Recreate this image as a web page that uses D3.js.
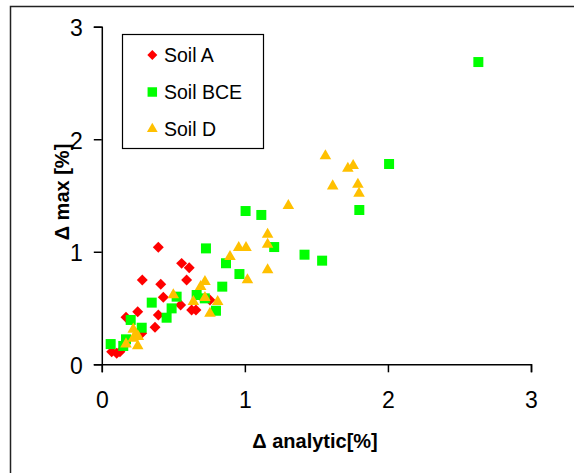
<!DOCTYPE html>
<html>
<head>
<meta charset="utf-8">
<script src="https://cdn.jsdelivr.net/npm/d3@7"></script>
<style>
  body { margin: 0; background: #fff; }
  svg { font-family: "Liberation Sans", Arial, sans-serif; }
</style>
</head>
<body>
<div id="chart"></div>
<script>

// values: [delta analytic, delta max]
var soilA = [
  [0.395, 1.04], [0.558, 0.897], [0.611, 0.858], [0.283, 0.749], [0.412, 0.711],
  [0.593, 0.749], [0.43, 0.595], [0.551, 0.527], [0.628, 0.482], [0.658, 0.482],
  [0.756, 0.571], [0.251, 0.467], [0.395, 0.438], [0.169, 0.418], [0.372, 0.329],
  [0.279, 0.275], [0.069, 0.112], [0.104, 0.098], [0.127, 0.112]
];
var soilBCE = [
  [2.632, 2.686], [2.008, 1.78], [1.8, 1.371], [1.005, 1.362], [1.115, 1.327],
  [1.205, 1.042], [0.728, 1.03], [1.417, 0.974], [1.54, 0.921], [0.868, 0.898],
  [0.962, 0.802], [0.842, 0.69], [0.523, 0.601], [0.663, 0.616], [0.349, 0.548],
  [0.488, 0.497], [0.72, 0.586], [0.798, 0.476], [0.453, 0.414], [0.202, 0.394],
  [0.279, 0.325], [0.169, 0.222], [0.15, 0.163], [0.062, 0.18]
];
var soilD = [
  [1.563, 1.851], [1.72, 1.741], [1.757, 1.765], [1.614, 1.584], [1.79, 1.599],
  [1.798, 1.519], [1.304, 1.41], [1.159, 1.155], [1.159, 1.066], [0.957, 1.036],
  [1.008, 1.036], [0.896, 0.956], [1.159, 0.838], [1.018, 0.749], [0.721, 0.734],
  [0.691, 0.69], [0.5, 0.616], [0.721, 0.592], [0.64, 0.556], [0.81, 0.556],
  [0.756, 0.453], [0.22, 0.311], [0.24, 0.266], [0.255, 0.245], [0.22, 0.231],
  [0.169, 0.18], [0.251, 0.163]
];
var xTicks = [0, 1, 2, 3];
var yTicks = [0, 1, 2, 3];
var seriesNames = ["Soil A", "Soil BCE", "Soil D"];

var width = 574, height = 473;

var svg = d3.select("#chart").append("svg")
  .attr("width", width)
  .attr("height", height);

// outer frame (runs off the right and bottom edge)
svg.append("rect")
  .attr("x", 10.5).attr("y", 6.5)
  .attr("width", 600).attr("height", 500)
  .attr("fill", "none")
  .attr("stroke", "#222")
  .attr("stroke-width", 1.5);

var x = d3.scaleLinear().domain([0, 3]).range([101.8, 531]);
var y = d3.scaleLinear().domain([0, 3]).range([364.3, 26.7]);

var xAxis = d3.axisBottom(x).tickValues(xTicks).tickSize(8).tickPadding(19.5).tickFormat(d3.format("d"));
var yAxis = d3.axisLeft(y).tickValues(yTicks).tickSize(8).tickPadding(11).tickFormat(d3.format("d"));

var gx = svg.append("g").attr("transform", "translate(0," + y(0) + ")").call(xAxis);
var gy = svg.append("g").attr("transform", "translate(" + x(0) + ",0)").call(yAxis);

[gx, gy].forEach(function(g){
  g.select(".domain").attr("stroke", "#000").attr("stroke-width", 1.5);
  g.selectAll(".tick line").attr("stroke", "#000").attr("stroke-width", 1.5);
  g.selectAll(".tick text")
    .attr("fill", "#000")
    .style("font-size", "23px")
    .style("font-family", "Liberation Sans, Arial, sans-serif");
});
gy.selectAll(".tick text").attr("dy", "0.4em");

// axis titles
svg.append("text")
  .attr("x", 315).attr("y", 448)
  .attr("text-anchor", "middle")
  .style("font-size", "20px")
  .style("font-weight", "bold")
  .text("\u0394 analytic[%]");

svg.append("text")
  .attr("transform", "translate(69,192) rotate(-90)")
  .attr("text-anchor", "middle")
  .style("font-size", "20px")
  .style("font-weight", "bold")
  .text("\u0394 max [%]");

// marker shapes
var diamond = d3.symbol().type(d3.symbolSquare).size(60);
var square = d3.symbol().type(d3.symbolSquare).size(100);
var triangle = d3.symbol().type(d3.symbolTriangle).size(58);

var series = [
  { name: seriesNames[0], data: soilA, color: "#ff0000", path: diamond, rot: 45 },
  { name: seriesNames[1], data: soilBCE, color: "#00ff00", path: square, rot: 0 },
  { name: seriesNames[2], data: soilD, color: "#ffc000", path: triangle, rot: 0 }
];

series.forEach(function(s){
  svg.append("g").selectAll("path")
    .data(s.data)
    .enter().append("path")
    .attr("d", s.path())
    .attr("fill", s.color)
    .attr("transform", function(d){
      return "translate(" + x(d[0]) + "," + y(d[1]) + ") rotate(" + s.rot + ")";
    });
});

// legend
var legend = svg.append("g");
legend.append("rect")
  .attr("x", 122.5).attr("y", 34.5)
  .attr("width", 141).attr("height", 114)
  .attr("fill", "#fff")
  .attr("stroke", "#000")
  .attr("stroke-width", 1.2);

var legendSize = { "Soil A": 50, "Soil BCE": 90, "Soil D": 50 };
series.forEach(function(s, i){
  var cy = 55 + i * 37;
  legend.append("path")
    .attr("d", d3.symbol().type(s.path.type()).size(legendSize[s.name])())
    .attr("fill", s.color)
    .attr("transform", "translate(152.3," + cy + ") rotate(" + s.rot + ")");
  legend.append("text")
    .attr("x", 164).attr("y", cy)
    .attr("dy", "0.36em")
    .style("font-size", "19.5px")
    .text(s.name);
});

</script>
</body>
</html>
